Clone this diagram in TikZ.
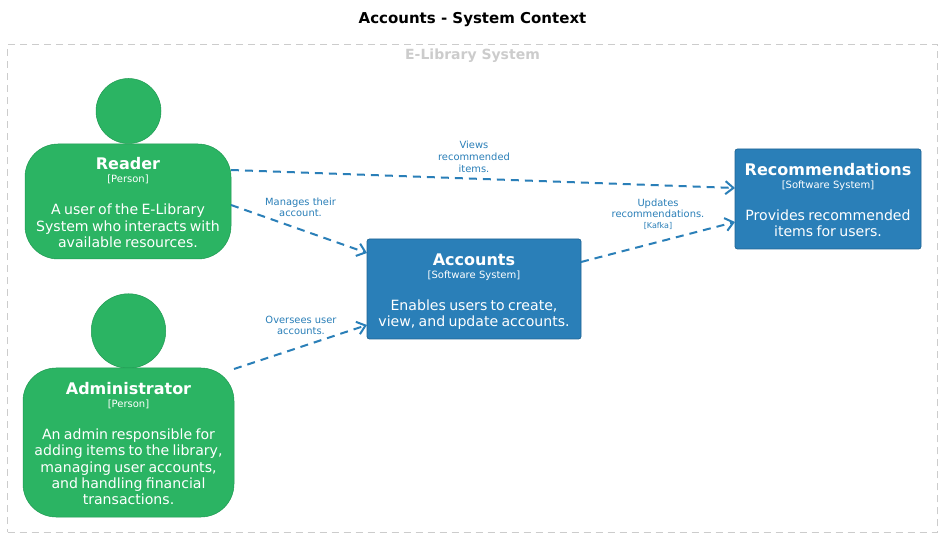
\documentclass[tikz,border=0pt]{standalone}
\usepackage{fontspec}
\setmainfont{DejaVu Sans}
\usetikzlibrary{arrows.meta}
\definecolor{pgreen}{HTML}{2BB463}
\definecolor{pgreenline}{HTML}{1F9A52}
\definecolor{sblue}{HTML}{2A7FB8}
\definecolor{sblueline}{HTML}{1F6594}
\definecolor{bound}{HTML}{CCCCCC}
\newcommand{\cardtext}[3]{%
  {\fontsize{16}{18}\selectfont\bfseries\strut #1\par}%
  {\fontsize{10}{13}\selectfont [#2]\par}%
  \vspace{16pt}%
  {\fontsize{14.1}{16.3}\selectfont #3\strut\par}%
  \vspace{-6.5pt}}
\tikzset{
  person/.style={draw=pgreenline,fill=pgreen,line width=.5pt,rounded corners=33pt,inner sep=0pt,outer sep=0pt,text=white,align=center},
  head/.style={draw=pgreenline,fill=pgreen,line width=.5pt,circle,inner sep=0pt,outer sep=0pt},
  softsys/.style={draw=sblueline,fill=sblue,line width=.7pt,rounded corners=2.5pt,inner sep=0pt,outer sep=0pt,text=white,align=center},
  rel/.style={draw=sblue,line width=2pt,dash pattern=on 8pt off 6pt,-{Straight Barb[length=8pt,width=13pt,line width=2pt]}},
  rellabel/.style={text=sblue,font=\fontsize{9.9}{11}\selectfont,align=center,inner sep=0pt}
}
\begin{document}
\begin{tikzpicture}[x=1pt,y=-1pt]
\useasboundingbox (0,0) rectangle (943,537);
\fill[white] (0,0) rectangle (943,537);
\node[font=\fontsize{15}{17}\selectfont\bfseries,inner sep=0pt] (title) at (472.5,20) {Accounts - System Context};
\node[draw=bound,line width=.7pt,dash pattern=on 7pt off 5pt,minimum width=930pt,minimum height=487.5pt,inner sep=0pt,outer sep=0pt] (boundary) at (472.5,288.5) {};
\node[font=\fontsize{14}{16}\selectfont\bfseries,text=bound,inner sep=0pt] (boundlabel) at (472.5,55.5) {E-Library System};

\node[head,minimum size=65pt] (readerhead) at (128.5,111) {};
\node[person,minimum width=206pt,minimum height=115pt,text width=206pt] (reader) at (128,201.5) {\cardtext{Reader}{Person}{A user of the E-Library\\System who interacts with\\available resources.}};
\node[head,minimum size=74.5pt] (adminhead) at (128.5,331) {};
\node[person,minimum width=211pt,minimum height=149pt,text width=211pt] (admin) at (128.5,442.5) {\cardtext{Administrator}{Person}{An admin responsible for\\adding items to the library,\\managing user accounts,\\and handling financial\\transactions.}};
\node[softsys,minimum width=214pt,minimum height=100pt,text width=214pt] (accounts) at (474,289) {\cardtext{Accounts}{Software System}{Enables users to create,\\view, and update accounts.}};
\node[softsys,minimum width=186pt,minimum height=100pt,text width=186pt] (recs) at (828,199) {\cardtext{Recommendations}{Software System}{Provides recommended\\items for users.}};

\draw[rel] ([yshift=31.5pt]reader.east) -- ([yshift=11pt]recs.west);
\draw[rel] ([yshift=-3.5pt]reader.east) -- ([yshift=36pt]accounts.west);
\draw[rel] ([yshift=-1pt]admin.north east) -- ([yshift=-36pt]accounts.west);
\draw[rel] ([yshift=27pt]accounts.east) -- ([yshift=-23pt]recs.west);

\node[rellabel,font=\fontsize{9.9}{12}\selectfont] (l1) at (474,157) {Views\\recommended\\items.};
\node[rellabel] (l2) at (300.5,207) {Manages their\\account.};
\node[rellabel] (l3) at (301,325) {Oversees user\\accounts.};
\node[rellabel] (l4) at (658,214) {Updates\\recommendations.\\{\fontsize{8}{9}\selectfont [Kafka]}};
\end{tikzpicture}
\end{document}
